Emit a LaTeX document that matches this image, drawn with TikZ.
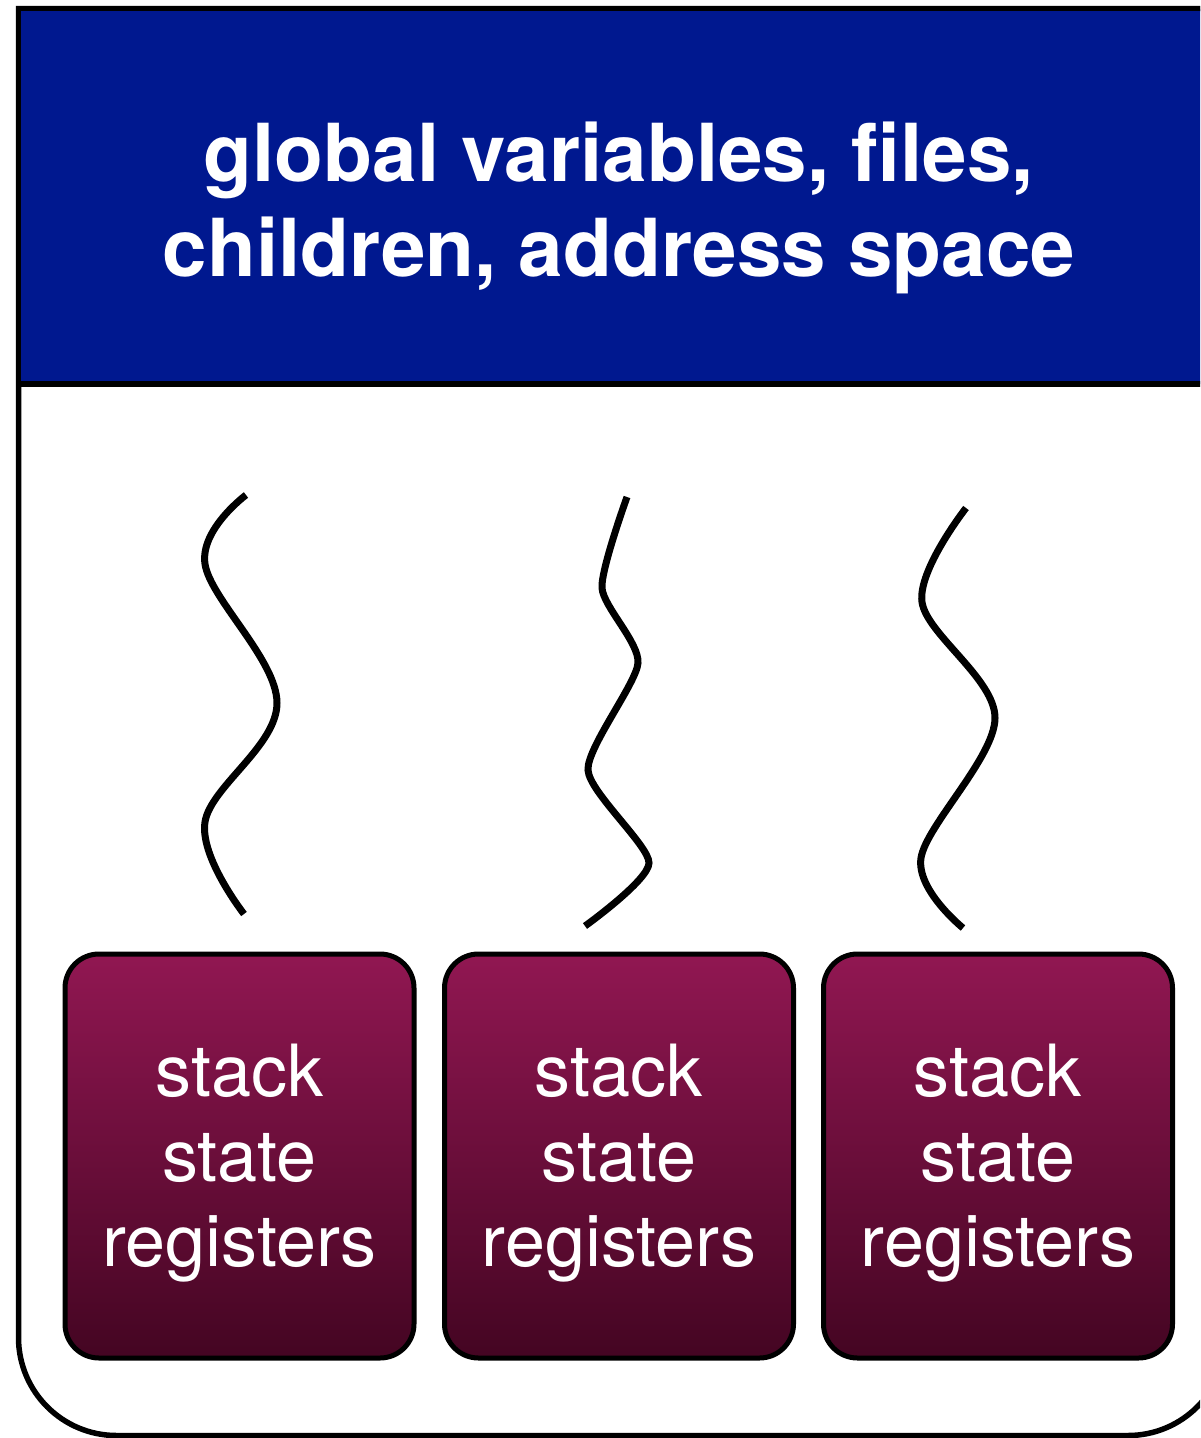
\documentclass[tikz,border=0pt]{standalone}
\usepackage{fontspec}
\setmainfont{TeX Gyre Heros}
\definecolor{hdrblue}{RGB}{0,24,143}
\definecolor{boxtop}{RGB}{145,23,82}
\definecolor{boxbot}{RGB}{68,5,34}
\tikzset{
  frameline/.style={draw=black, line width=5.5pt},
  threadbox/.style={draw=black, line width=5pt, rounded corners=34pt,
    minimum width=349pt, minimum height=404pt, inner sep=0pt,
    top color=boxtop, bottom color=boxbot},
  boxtext/.style={text=white, align=center, inner sep=0pt,
    font=\fontsize{72}{85}\selectfont},
  hdrtext/.style={text=white, align=center, inner sep=0pt,
    font=\bfseries\fontsize{80}{95}\selectfont},
  squiggle/.style={draw=black, line width=7pt}
}
\begin{document}
\begin{tikzpicture}[x=1pt,y=-1pt]
\useasboundingbox (0,0) rectangle (1200,1438);
\begin{scope}
\clip (0,0) rectangle (1200,1438);
% outer container
\fill[white] (0,0) rectangle (1200,1438);
\draw[frameline] (18.5,8.5) [rounded corners=98pt] -- (18.5,1435.5) -- (1226,1435.5) [sharp corners] -- (1226,8.5) -- cycle;
% header
\draw[frameline, fill=hdrblue] (18.5,8.5) rectangle (1226,384);
\end{scope}
\node[hdrtext] (hdr) at (619,208) {global variables, files,\\children, address space};
% threads
\draw[squiggle] plot[smooth, tension=0.6] coordinates {(246,495) (205,564) (277,703) (205,822) (244,914)};
\draw[squiggle] plot[smooth, tension=0.4] coordinates {(627,497) (602,588) (638,663) (588,770) (649,863) (585,926)};
\draw[squiggle] plot[smooth, tension=0.55] coordinates {(966,508) (922,602) (995,718) (921,858) (963,928)};
% thread boxes
\foreach \n/\x in {1/239.5, 2/619, 3/998} {
  \node[threadbox] (box\n) at (\x,1156) {};
  \node[boxtext] (lbl\n) at (\x,1163.5) {stack\\state\\registers};
}
\end{tikzpicture}
\end{document}
